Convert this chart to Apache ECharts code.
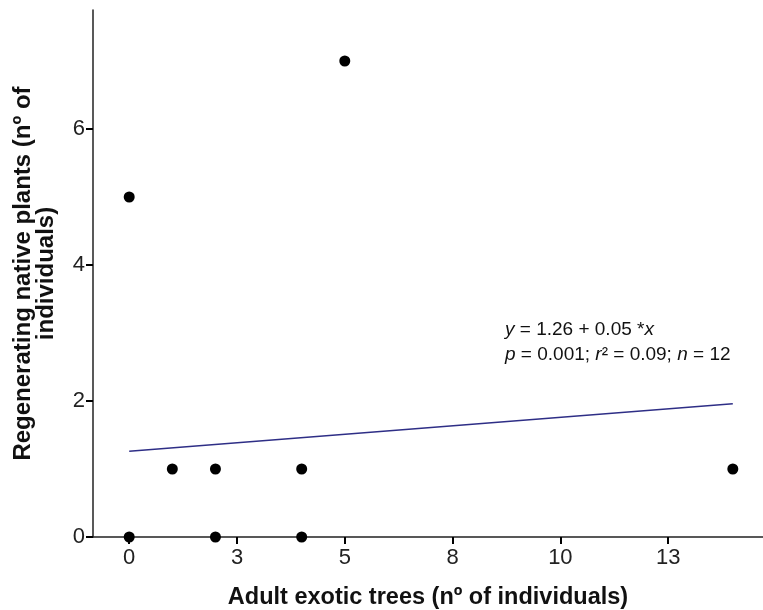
<!DOCTYPE html>
<html>
<head>
<meta charset="utf-8">
<script src="https://cdn.jsdelivr.net/npm/echarts@6/dist/echarts.min.js"></script>
<style>
  html, body { margin: 0; padding: 0; background: #fff; }
  #chart { width: 763px; height: 610px; }
</style>
</head>
<body>
<div id="chart"></div>
<script>
// observed points (x = adult exotic trees, y = regenerating native plants)
var pointsX = [0, 0, 1, 2, 2, 4, 4, 5, 14];
var pointsY = [0, 5, 1, 1, 0, 1, 0, 7, 1];
// fitted line y = 1.26 + 0.05x, end points
var fitX = [0, 14];
var fitY = [1.26, 1.96];
var xTicks = [0, 2.5, 5, 7.5, 10, 12.5];
var yTicks = [0, 2, 4, 6];

var chartDom = document.getElementById("chart");
var myChart = echarts.init(chartDom);

var scatterData = pointsX.map(function (x, i) { return [x, pointsY[i]]; });
var lineData = fitX.map(function (x, i) { return [x, fitY[i]]; });

var font = "Liberation Sans, Arial, sans-serif";

var option = {
  animation: false,
  grid: { left: 93, right: 0, top: 10, bottom: 73, outerBoundsMode: "none", containLabel: false },
  xAxis: {
    type: "value",
    min: -0.84,
    max: 14.7,
    name: "Adult exotic trees (nº of individuals)",
    nameLocation: "middle",
    nameGap: 49,
    nameTextStyle: { fontFamily: font, fontSize: 23.5, fontWeight: "bold", color: "#111" },
    axisLine: { show: true, onZero: false, lineStyle: { color: "#222", width: 1.5 } },
    axisTick: { show: true, length: 7, lineStyle: { color: "#000", width: 2 }, customValues: xTicks },
    axisLabel: {
      fontFamily: font, fontSize: 22, color: "#222", margin: 10,
      customValues: xTicks,
      formatter: function (v) { return String(Math.round(v)); }
    },
    splitLine: { show: false }
  },
  yAxis: {
    type: "value",
    min: 0,
    max: 7.75,
    name: "Regenerating native plants (nº of\nindividuals)",
    nameLocation: "middle",
    nameRotate: 90,
    nameGap: 35,
    nameTextStyle: { fontFamily: font, fontSize: 24, fontWeight: "bold", color: "#111", lineHeight: 23 },
    axisLine: { show: true, onZero: false, lineStyle: { color: "#222", width: 1.5 } },
    axisTick: { show: true, length: 7, lineStyle: { color: "#000", width: 2 }, customValues: yTicks },
    axisLabel: { fontFamily: font, fontSize: 22, color: "#222", margin: 8, customValues: yTicks },
    splitLine: { show: false }
  },
  graphic: [
    {
      type: "text",
      left: 505,
      top: 317,
      style: {
        text: "{i|y} = 1.26 + 0.05 *{i|x}\n{i|p} = 0.001; {i|r}² = 0.09; {i|n} = 12",
        font: "19px " + font,
        fill: "#111",
        lineHeight: 25,
        rich: {
          i: { fontStyle: "italic", fontFamily: font, fontSize: 19, fill: "#111" }
        }
      }
    }
  ],
  series: [
    {
      type: "line",
      data: lineData,
      symbol: "none",
      lineStyle: { color: "#2e2e86", width: 1.5 },
      z: 2
    },
    {
      type: "scatter",
      data: scatterData,
      symbolSize: 11,
      itemStyle: { color: "#000", opacity: 1 },
      clip: false,
      z: 3
    }
  ]
};

option && myChart.setOption(option);
</script>
</body>
</html>
